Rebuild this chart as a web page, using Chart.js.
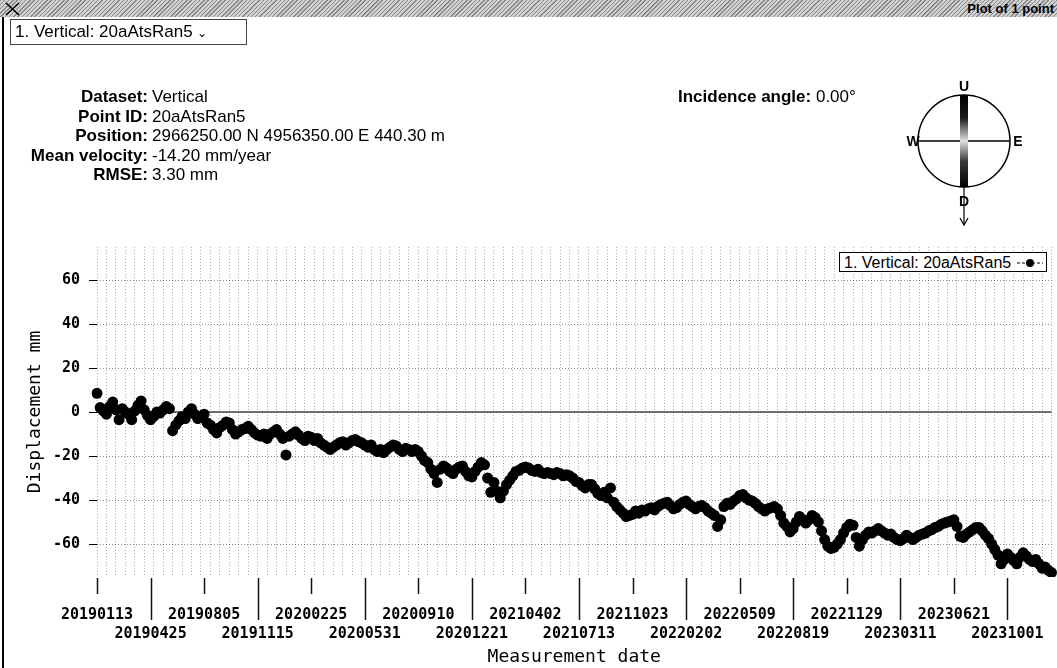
<!DOCTYPE html>
<html>
<head>
<meta charset="utf-8">
<script src="https://cdn.jsdelivr.net/npm/chart.js@4.4.1/dist/chart.umd.min.js"></script>
<style>
  html, body { margin: 0; padding: 0; background: #fff; }
  body { width: 1057px; height: 668px; position: relative; overflow: hidden; font-family: "Liberation Sans", Arial, sans-serif; color: #000; }
  #chart { position: absolute; left: 0; top: 0; z-index: 1; }
  .ov { position: absolute; z-index: 2; }
  #hdr { left: 0; top: 0; width: 1057px; height: 17px;
    background: repeating-linear-gradient(135deg, #888 0 1px, #d0d0d0 1px 3px); }
  #hdr .ttl { position: absolute; right: 3px; top: 0; font: bold 13px "Liberation Sans", Arial, sans-serif; line-height: 17px; }
  #lborder { left: 2px; top: 17px; width: 2px; height: 651px; background: #000; }
  #sel { left: 10px; top: 19px; width: 231px; height: 24px; border: 1px solid #444; font-size: 17px; line-height: 24px; padding-left: 4px; box-sizing: content-box; white-space: nowrap; }
  .info { font-size: 17px; line-height: 19.5px; white-space: nowrap; }
  .info .row { display: flex; }
  .info .k { width: 148px; text-align: right; font-weight: bold; padding-right: 4px; }
  #legend { left: 839px; top: 252px; width: 208px; height: 20px; border: 1px solid #000; background: #fff; font-size: 16px; line-height: 19px; white-space: nowrap; padding-left: 4px; box-sizing: border-box; }
</style>
</head>
<body>
<canvas id="chart" width="1057" height="668"></canvas>

<div class="ov" id="hdr">
  <svg style="position:absolute;left:5px;top:2px" width="15" height="14"><path d="M1 1 L14 13 M14 1 L1 13" stroke="#000" stroke-width="1.6"/></svg>
  <span class="ttl">Plot of 1 point</span>
</div>
<div class="ov" id="lborder"></div>
<div class="ov" id="sel">1. Vertical: 20aAtsRan5 <span style="font-size:12px">&#8964;</span></div>

<div class="ov info" style="left:0; top:87px;">
  <div class="row"><span class="k">Dataset:</span><span>Vertical</span></div>
  <div class="row"><span class="k">Point ID:</span><span>20aAtsRan5</span></div>
  <div class="row"><span class="k">Position:</span><span>2966250.00 N 4956350.00 E 440.30 m</span></div>
  <div class="row"><span class="k">Mean velocity:</span><span>-14.20 mm/year</span></div>
  <div class="row"><span class="k">RMSE:</span><span>3.30 mm</span></div>
</div>
<div class="ov info" style="left:678px; top:87px;"><b>Incidence angle:</b> 0.00°</div>

<svg class="ov" style="left:900px; top:72px;" width="140" height="160">
  <defs>
    <linearGradient id="bar" x1="0" y1="0" x2="0" y2="1">
      <stop offset="0" stop-color="#000"/>
      <stop offset="0.25" stop-color="#1a1a1a"/>
      <stop offset="0.5" stop-color="#e0e0e0"/>
      <stop offset="0.72" stop-color="#3a3a3a"/>
      <stop offset="1" stop-color="#000"/>
    </linearGradient>
  </defs>
  <circle cx="64" cy="69" r="46" fill="none" stroke="#000" stroke-width="1.5"/>
  <line x1="18" y1="69" x2="110" y2="69" stroke="#000" stroke-width="1.5"/>
  <rect x="60" y="23" width="8" height="92" fill="url(#bar)"/>
  <text x="64" y="19" font-family="Liberation Sans, Arial" font-weight="bold" font-size="14" text-anchor="middle">U</text>
  <text x="13" y="74" font-family="Liberation Sans, Arial" font-weight="bold" font-size="14" text-anchor="middle">W</text>
  <text x="118" y="74" font-family="Liberation Sans, Arial" font-weight="bold" font-size="14" text-anchor="middle">E</text>
  <text x="64" y="134" font-family="Liberation Sans, Arial" font-weight="bold" font-size="14" text-anchor="middle">D</text>
  <line x1="64" y1="115" x2="64" y2="152" stroke="#000" stroke-width="1.2"/>
  <path d="M60 146 L64 153 L68 146" fill="none" stroke="#000" stroke-width="1.2"/>
</svg>

<div class="ov" id="legend">1. Vertical: 20aAtsRan5 <svg width="28" height="12" style="vertical-align:-1px"><line x1="1" y1="6" x2="27" y2="6" stroke="#000" stroke-width="1" stroke-dasharray="3,2"/><circle cx="14" cy="6" r="4" fill="#000"/></svg></div>

<script>
// ---- data ----
const tickDates = ['20190113','20190425','20190805','20191115','20200225','20200531','20200910','20201221',
  '20210402','20210713','20211023','20220202','20220509','20220819','20221129','20230311','20230621','20231001'];
const samplesPerTick = 17;
const yTickValues = [-60, -40, -20, 0, 20, 40, 60];
const displacement = [
  8.5, 2, 0.5, -1, 2.5, 4.5, 1, -3.5, 1.5, 0, -1, -3.5, 0.5, 3, 5, 1, -1.5,
  -3.5, -2, 0, -0.5, 1, 2.5, 1.5, -8.5, -6, -4, -2, -3, 0, 1.5, -1, -3, -2.5,
  -1, -5, -6, -8, -9.5, -7, -6, -4.5, -5, -8, -10, -9, -8, -7.5, -6.5, -8, -9.5,
  -10.5, -11, -10, -12, -10, -9, -8, -10, -12, -19.5, -11, -10, -9, -10.5, -12, -13, -11,
  -11.5, -13, -12, -14, -15, -16, -17, -16, -15, -14, -13.5, -15, -14, -13, -12.5, -13.5, -14,
  -15, -16, -15, -17, -18, -17, -18.5, -17, -16, -15, -15.5, -17, -18, -16.5, -17, -18, -17,
  -18, -20, -22, -23, -26, -28, -32, -26, -24.5, -25.5, -27, -28, -26, -25, -24.5, -27, -29,
  -29.5, -27, -25, -23, -24, -30, -36.5, -32, -36, -39, -36, -33, -31, -29, -27, -26.5, -25.5,
  -25, -25.5, -26.5, -27, -26, -27.5, -28, -27.5, -28, -28.5, -27.5, -28, -29, -28.5, -29, -30, -31.5,
  -32, -33.5, -34.5, -33, -33, -35, -37, -38, -36.5, -39, -34.5, -41, -43, -44.5, -46, -47.5, -47,
  -46.5, -45, -46, -44.5, -45, -44, -43.5, -44.5, -43, -42, -41.5, -41, -42.5, -44, -43.5, -42, -41,
  -40.5, -42, -43, -44, -43, -42.5, -43.5, -45, -46, -47, -52, -49, -43, -41.5, -42, -40.5, -39.5,
  -38, -37.5, -39, -40, -40.5, -41.5, -43, -44, -45, -44, -43.5, -43, -44, -47, -50.5, -52, -54.5,
  -53, -50, -47.5, -49, -50.5, -49, -47, -48, -50, -54, -58, -61, -62, -61.5, -60, -58, -55,
  -52.5, -51, -51.5, -57, -61, -58, -56, -54.5, -55, -54, -53, -54, -55, -56, -55.5, -57, -58,
  -58.5, -57.5, -56, -57, -58, -57, -56, -55.5, -55, -54, -53.5, -52.5, -52, -51, -50.5, -50, -49.5,
  -49, -52, -56.5, -57, -55.5, -54.5, -53.5, -52.5, -52.5, -54, -56, -57.5, -60, -62.5, -65, -69, -67,
  -64.5, -66, -67.5, -69, -66, -64, -65.5, -67, -68, -67, -69, -71, -70.5, -72, -73
];

// category labels: a date every 17 acquisitions, alternating between two rows
const labels = displacement.map((_, i) => {
  if (i % samplesPerTick !== 0) return '';
  const k = i / samplesPerTick;
  if (k >= tickDates.length) return '';
  return k % 2 === 0 ? tickDates[k] : ['', tickDates[k]];
});

const decor = {
  id: 'decor',
  beforeDatasetsDraw(chart) {
    const {ctx, chartArea, scales} = chart;
    const y0 = scales.y.getPixelForValue(0);
    ctx.save();
    ctx.strokeStyle = '#444';
    ctx.lineWidth = 1.5;
    ctx.beginPath();
    ctx.moveTo(chartArea.left, y0);
    ctx.lineTo(chartArea.right, y0);
    ctx.stroke();
    ctx.restore();
  },
  afterDraw(chart) {
    const {ctx, chartArea, scales} = chart;
    ctx.save();
    ctx.strokeStyle = '#111';
    ctx.lineWidth = 1.5;
    tickDates.forEach((d, k) => {
      const x = Math.round(scales.x.getPixelForValue(k * samplesPerTick)) + 0.5;
      const len = k % 2 === 0 ? 17 : 43;
      ctx.beginPath();
      ctx.moveTo(x, chartArea.bottom + 1);
      ctx.lineTo(x, chartArea.bottom + len);
      ctx.stroke();
    });
    ctx.restore();
  }
};

const mono = '"DejaVu Sans Mono", monospace';
new Chart(document.getElementById('chart'), {
  type: 'line',
  data: {
    labels: labels,
    datasets: [{
      label: '1. Vertical: 20aAtsRan5',
      data: displacement,
      showLine: false,
      pointRadius: 5.5,
      pointHoverRadius: 5.5,
      pointBackgroundColor: '#000',
      pointBorderColor: '#000',
      pointBorderWidth: 0,
      borderColor: '#000'
    }]
  },
  plugins: [decor],
  options: {
    responsive: false,
    animation: false,
    events: [],
    layout: { padding: { top: 247, right: 5, left: 0, bottom: 0 } },
    plugins: { legend: { display: false }, tooltip: { enabled: false } },
    scales: {
      x: {
        type: 'category',
        offset: false,
        afterFit(s) { s.height = 91; s.paddingLeft = 0; s.paddingRight = 0; },
        grid: {
          color: (c) => (c.index % 3 === 0 ? 'rgba(0,0,0,0.32)' : 'rgba(0,0,0,0)'),
          drawTicks: false, lineWidth: 1
        },
        border: { display: false, dash: [1, 2] },
        ticks: {
          autoSkip: false, maxRotation: 0, minRotation: 0, padding: 28,
          color: '#000',
          font: { family: mono, size: 15, weight: 'bold', lineHeight: 1.3 }
        },
        title: {
          display: true, text: 'Measurement date', color: '#000',
          font: { family: mono, size: 18 }, padding: { top: 0, bottom: 0 }
        }
      },
      y: {
        min: -75, max: 75,
        afterFit(s) { s.width = 97; },
        afterBuildTicks(s) { s.ticks = yTickValues.map(v => ({ value: v })); },
        grid: { color: 'rgba(0,0,0,0.45)', tickColor: '#000', tickLength: 8, drawTicks: true },
        border: { display: false, dash: [1, 2] },
        ticks: {
          padding: 9, color: '#000',
          font: { family: mono, size: 15, weight: 'bold' }
        },
        title: {
          display: true, text: 'Displacement mm', color: '#000',
          font: { family: mono, size: 18 }, padding: { top: 25, bottom: 0 }
        }
      }
    }
  }
});
</script>
</body>
</html>
